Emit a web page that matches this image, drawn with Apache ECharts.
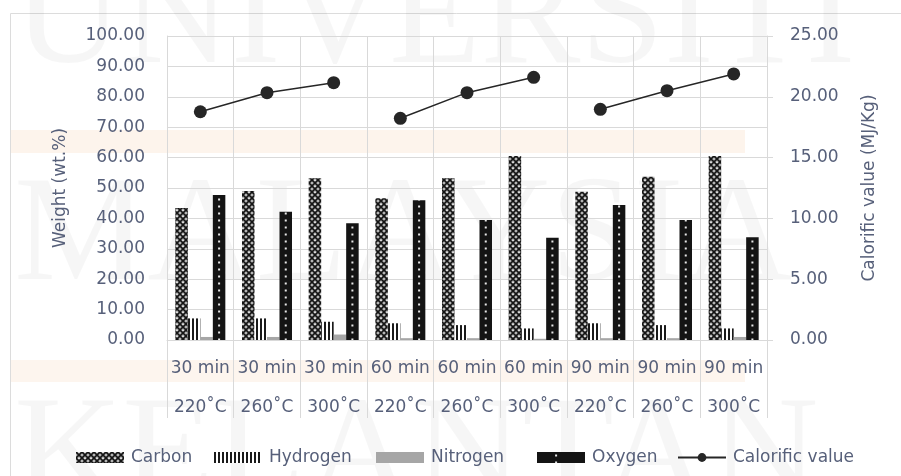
<!DOCTYPE html>
<html>
<head>
<meta charset="utf-8">
<script src="https://cdn.jsdelivr.net/npm/echarts@6/dist/echarts.min.js"></script>
<style>
  html, body { margin: 0; padding: 0; background: #ffffff; }
  #chart { width: 901px; height: 476px; }
</style>
</head>
<body>
<div id="chart"></div>
<script>
// Reaction conditions
const times = ['30 min', '30 min', '30 min', '60 min', '60 min', '60 min', '90 min', '90 min', '90 min'];
const temps = ['220˚C', '260˚C', '300˚C', '220˚C', '260˚C', '300˚C', '220˚C', '260˚C', '300˚C'];

// Elemental composition (wt.%)
const carbon   = [43.4, 49.0, 53.2, 46.6, 53.2, 60.5, 48.8, 53.7, 60.5];
const hydrogen = [7.1, 7.1, 6.0, 5.5, 4.9, 3.8, 5.5, 4.9, 3.8];
const nitrogen = [1.0, 1.0, 1.8, 0.6, 0.6, 0.4, 0.6, 0.6, 1.0];
const oxygen   = [47.7, 42.2, 38.4, 46.0, 39.5, 33.6, 44.4, 39.5, 33.8];

// Calorific value (MJ/Kg)
const calorific = [18.77, 20.34, 21.16, 18.23, 20.34, 21.6, 18.97, 20.5, 21.88];

// Axis tick values
const leftTicks = { min: 0, max: 100, interval: 10 };
const rightTicks = { min: 0, max: 25, interval: 5 };

// Legend entries
const legendNames = ['Carbon', 'Hydrogen', 'Nitrogen', 'Oxygen', 'Calorific value'];

const categories = times.map((t, i) => t + '\n' + temps[i]);

const FONT = 'DejaVu Sans';
const FS = 17;
const TEXT = '#57607a';
const GRID_LINE = '#d9d9d9';

function tile(w, h, draw) {
  const c = document.createElement('canvas');
  c.width = w; c.height = h;
  draw(c.getContext('2d'));
  return c;
}

// cross-hatch fill
const carbonFill = tile(6, 6, ctx => {
  ctx.fillStyle = '#b8b8b8';
  ctx.fillRect(0, 0, 6, 6);
  ctx.strokeStyle = '#141414';
  ctx.lineWidth = 1.6;
  ctx.beginPath();
  ctx.moveTo(-1, -1); ctx.lineTo(7, 7);
  ctx.moveTo(7, -1); ctx.lineTo(-1, 7);
  ctx.stroke();
  ctx.fillStyle = '#f2f2f2';
  ctx.fillRect(2.4, 0, 1.2, 1);
});

// vertical stripes
const hydrogenFill = tile(4, 4, ctx => {
  ctx.fillStyle = '#ffffff';
  ctx.fillRect(0, 0, 4, 4);
  ctx.fillStyle = '#1a1a1a';
  ctx.fillRect(0, 0, 2, 4);
});

// dark fill with a column of small light dots per bar (tile spans three categories)
const oxygenFill = tile(200, 7, ctx => {
  ctx.fillStyle = '#141414';
  ctx.fillRect(0, 0, 200, 7);
  ctx.fillStyle = '#e8e8e8';
  [19.1, 85.75, 152.4].forEach(cx => ctx.fillRect(cx - 1, 2.5, 2, 2));
});

// calorific value drawn as one broken line per residence time
const lineSeries = [0, 1, 2].map(g => ({
  name: 'Calorific value',
  type: 'line',
  yAxisIndex: 1,
  data: calorific.map((v, i) => (Math.floor(i / 3) === g ? v : null)),
  connectNulls: false,
  symbol: 'circle',
  symbolSize: 13,
  itemStyle: { color: '#262626' },
  lineStyle: { color: '#262626', width: 1.5 },
  z: 5
}));

const barBase = {
  type: 'bar',
  barGap: '0%',
  barCategoryGap: '25%',
  yAxisIndex: 0
};

// one legend block per entry so each sits at its own spot
const legendLeft = [71, 209, 371, 532, 672];
const legends = legendNames.map((n, i) => ({
  left: legendLeft[i],
  top: 444,
  itemWidth: 48,
  itemHeight: 11,
  itemGap: 0,
  icon: i < 4 ? 'rect' : undefined,
  textStyle: { fontFamily: FONT, fontSize: FS, color: TEXT, padding: [0, 0, 0, 2] },
  data: [n]
}));

const chart = echarts.init(document.getElementById('chart'), null, { renderer: 'canvas' });

chart.setOption({
  backgroundColor: '#ffffff',
  animation: false,
  textStyle: { fontFamily: FONT },
  graphic: [
    { type: 'rect', z: -10, shape: { x: 10, y: 130, width: 735, height: 23 }, style: { fill: '#fdf4ec' } },
    { type: 'rect', z: -10, shape: { x: 10, y: 360, width: 735, height: 22 }, style: { fill: '#fdf5ee' } },
    { type: 'rect', z: -9, shape: { x: 10.5, y: 13.5, width: 900, height: 470 }, style: { fill: 'none', stroke: '#dcdcdc', lineWidth: 1 } },
    { type: 'text', z: -9, x: 14, y: -52, style: { text: 'UNIVERSITI', font: '150px "Liberation Serif"', fill: 'rgba(0,0,0,0.035)' } },
    { type: 'text', z: -9, x: 14, y: 165, style: { text: 'MALAYSIA', font: '150px "Liberation Serif"', fill: 'rgba(0,0,0,0.035)' } },
    { type: 'text', z: -9, x: 14, y: 385, style: { text: 'KELANTAN', font: '150px "Liberation Serif"', fill: 'rgba(0,0,0,0.035)' } }
  ],
  legend: legends,
  grid: { left: 167, right: 134, top: 36, bottom: 136, containLabel: false },
  xAxis: {
    type: 'category',
    data: categories,
    boundaryGap: true,
    axisLine: { show: true, lineStyle: { color: GRID_LINE, width: 1 } },
    axisTick: { show: true, interval: 0, length: 78, lineStyle: { color: GRID_LINE } },
    splitLine: { show: true, interval: 0, lineStyle: { color: GRID_LINE, width: 1 } },
    axisLabel: {
      interval: 0,
      margin: 9,
      fontFamily: FONT,
      fontSize: FS,
      color: TEXT,
      lineHeight: 39
    }
  },
  yAxis: [
    {
      type: 'value',
      min: leftTicks.min,
      max: leftTicks.max,
      interval: leftTicks.interval,
      name: 'Weight (wt.%)',
      nameLocation: 'middle',
      nameGap: 98,
      nameTextStyle: { fontFamily: FONT, fontSize: FS, color: TEXT },
      axisLine: { show: true, lineStyle: { color: GRID_LINE } },
      axisTick: { show: false },
      splitLine: { show: true, lineStyle: { color: GRID_LINE, width: 1 } },
      axisLabel: {
        margin: 22,
        fontFamily: FONT,
        fontSize: FS,
        color: TEXT,
        formatter: v => v.toFixed(2)
      }
    },
    {
      type: 'value',
      position: 'right',
      min: rightTicks.min,
      max: rightTicks.max,
      interval: rightTicks.interval,
      name: 'Calorific value (MJ/Kg)',
      nameLocation: 'middle',
      nameGap: 94,
      nameTextStyle: { fontFamily: FONT, fontSize: FS, color: TEXT },
      axisLine: { show: true, lineStyle: { color: GRID_LINE } },
      axisTick: { show: true, length: 6, lineStyle: { color: GRID_LINE } },
      splitLine: { show: false },
      axisLabel: {
        margin: 23,
        fontFamily: FONT,
        fontSize: FS,
        color: TEXT,
        formatter: v => v.toFixed(2)
      }
    }
  ],
  series: [
    Object.assign({}, barBase, { name: 'Carbon', data: carbon, itemStyle: { color: { image: carbonFill, repeat: 'repeat' } } }),
    Object.assign({}, barBase, { name: 'Hydrogen', data: hydrogen, itemStyle: { color: { image: hydrogenFill, repeat: 'repeat' } } }),
    Object.assign({}, barBase, { name: 'Nitrogen', data: nitrogen, itemStyle: { color: '#a6a6a6' } }),
    Object.assign({}, barBase, { name: 'Oxygen', data: oxygen, itemStyle: { color: { image: oxygenFill, repeat: 'repeat' } } })
  ].concat(lineSeries)
});
</script>
</body>
</html>
